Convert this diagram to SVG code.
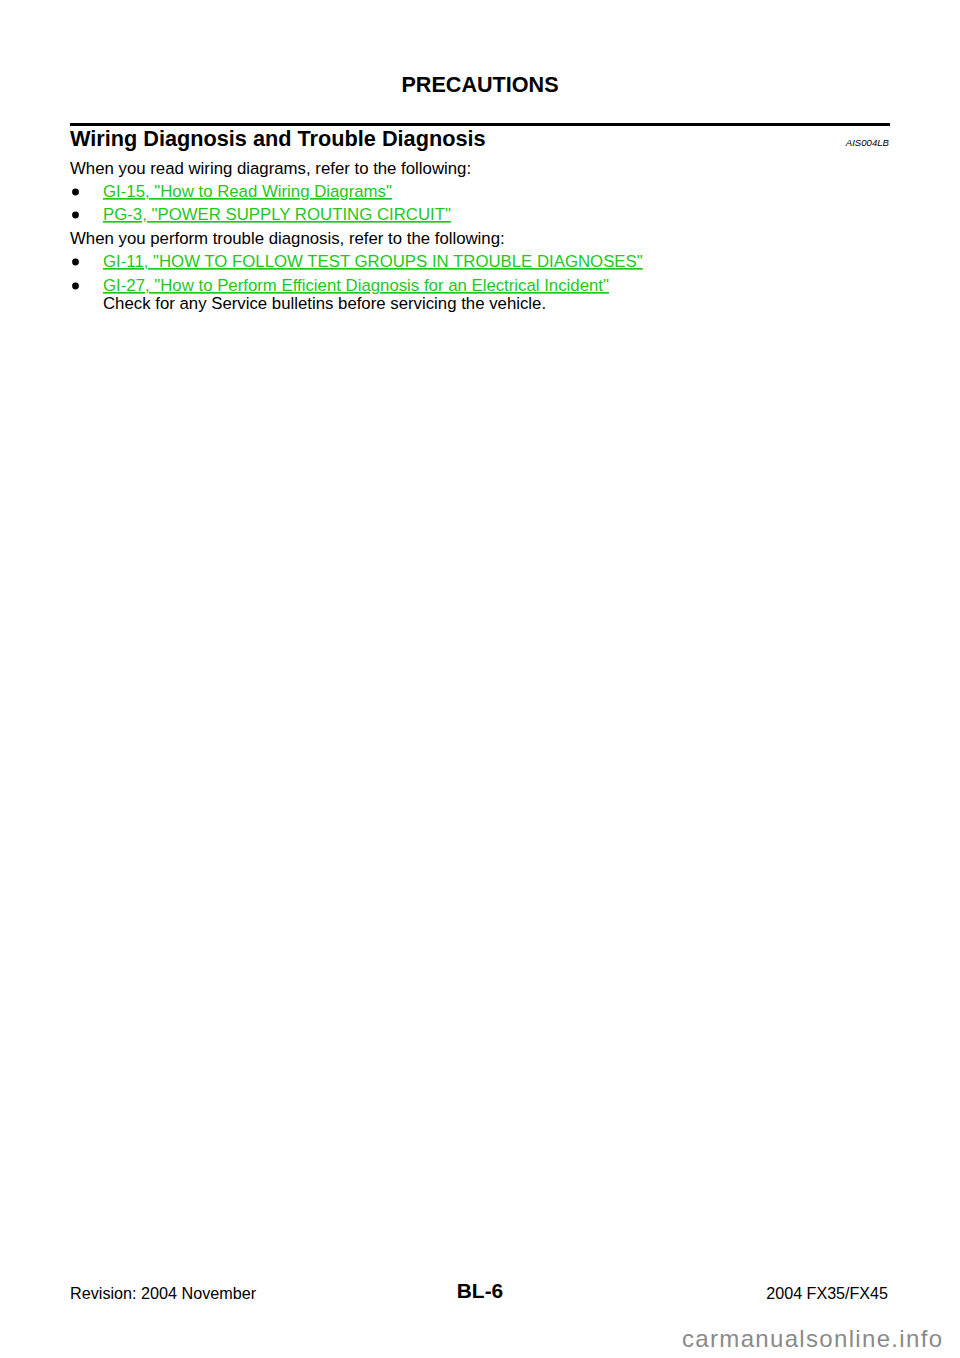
<svg xmlns="http://www.w3.org/2000/svg" width="960" height="1358" viewBox="0 0 960 1358">
<style>
text{font-family:"Liberation Sans",Arial,sans-serif;fill:#000}
.b{font-weight:bold}
.body{font-size:16.8px}
.link{font-size:16.8px;fill:#1ec81e;text-decoration:underline}
</style>
<rect width="960" height="1358" fill="#fff"/>
<g id="header">
<text x="480" y="92" class="b" font-size="21.6" text-anchor="middle">PRECAUTIONS</text>
<rect x="70" y="123" width="820" height="3" fill="#000"/>
</g>
<g id="title">
<text x="70" y="146" class="b" font-size="21.7">Wiring Diagnosis and Trouble Diagnosis</text>
<text x="889" y="146" font-size="9.6" font-style="italic" text-anchor="end">AIS004LB</text>
</g>
<g id="body">
<text x="70" y="174" class="body">When you read wiring diagrams, refer to the following:</text>
<circle cx="75.5" cy="192" r="3.4" fill="#000"/>
<text x="103" y="197" class="link">GI-15, "How to Read Wiring Diagrams"</text>
<circle cx="75.5" cy="215" r="3.4" fill="#000"/>
<text x="103" y="220" class="link">PG-3, "POWER SUPPLY ROUTING CIRCUIT"</text>
<text x="70" y="244" class="body">When you perform trouble diagnosis, refer to the following:</text>
<circle cx="75.5" cy="262" r="3.4" fill="#000"/>
<text x="103" y="267" class="link">GI-11, "HOW TO FOLLOW TEST GROUPS IN TROUBLE DIAGNOSES"</text>
<circle cx="75.5" cy="286" r="3.4" fill="#000"/>
<text x="103" y="291" class="link">GI-27, "How to Perform Efficient Diagnosis for an Electrical Incident"</text>
<text x="103" y="309" class="body">Check for any Service bulletins before servicing the vehicle.</text>
</g>
<g id="footer">
<text x="70" y="1299" font-size="16.2">Revision: 2004 November</text>
<text x="480" y="1298" class="b" font-size="20.9" text-anchor="middle">BL-6</text>
<text x="888" y="1299" font-size="16.1" text-anchor="end">2004 FX35/FX45</text>
<text x="682" y="1347" font-size="24" style="fill:#8a8a8a" textLength="260" lengthAdjust="spacing">carmanualsonline.info</text>
</g>
</svg>
